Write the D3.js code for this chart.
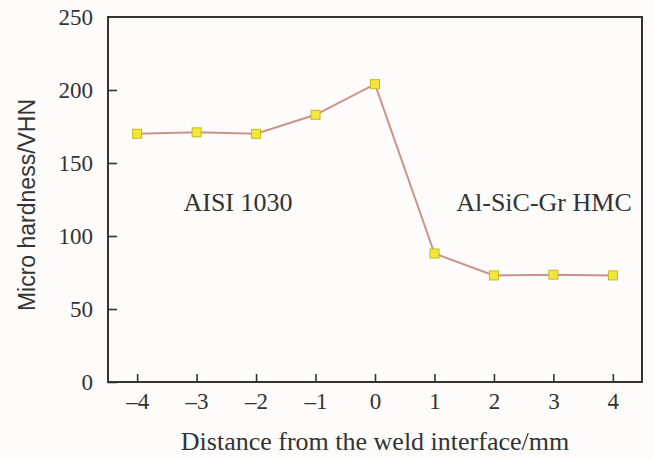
<!DOCTYPE html>
<meta charset="utf-8">
<script src="https://d3js.org/d3.v7.min.js"></script>
<style>
  body { margin: 0; background: #fdfcfa; }
  text { font-family: "Liberation Serif", "DejaVu Serif", serif; fill: #333; }
</style>
<div id="my_dataviz"></div>
<script>

// data
var distance = [-4, -3, -2, -1, 0, 1, 2, 3, 4];
var hardness = [170, 171, 170, 183, 204, 88, 73, 73.5, 73];
var yTicks = [0, 50, 100, 150, 200, 250];
var regionLabels = ["AISI 1030", "Al-SiC-Gr HMC"];

var width = 653, height = 459;
var margin = {top: 17, right: 11, bottom: 77, left: 108};
var w = width - margin.left - margin.right,
    h = height - margin.top - margin.bottom;

var svg = d3.select("#my_dataviz")
  .append("svg")
    .attr("width", width)
    .attr("height", height)
  .append("g")
    .attr("transform", "translate(" + margin.left + "," + margin.top + ")");

var x_axis = d3.scaleLinear().domain([-4.49, 4.49]).range([0, w]);
var y_axis = d3.scaleLinear().domain([0, 250]).range([h, 0]);

// frame
svg.append("rect")
  .attr("width", w).attr("height", h)
  .attr("fill", "none")
  .attr("stroke", "#333").attr("stroke-width", 2);

var xa = svg.append("g")
  .attr("transform", "translate(0," + h + ")")
  .call(d3.axisBottom(x_axis).tickValues(distance).tickSizeInner(-8).tickSizeOuter(0).tickPadding(11)
    .tickFormat(function(d) { return d < 0 ? "\u2013" + (-d) : d; }));

var ya = svg.append("g")
  .call(d3.axisLeft(y_axis).tickValues(yTicks).tickSizeInner(-9).tickSizeOuter(0).tickPadding(15));

[xa, ya].forEach(function(a) {
  a.select(".domain").remove();
  a.selectAll("line").attr("stroke", "#333").attr("stroke-width", 1.6);
  a.selectAll("text").style("font-size", "23px").attr("fill", "#333")
    .style("font-family", "Liberation Serif, serif");
});
ya.selectAll(".tick").filter(function(d) { return d === 250; }).select("line").remove();

// line
svg.append("path")
  .datum(distance)
  .attr("fill", "none")
  .attr("stroke", "#c8948e")
  .attr("stroke-width", 2)
  .attr("d", d3.line()
    .x(function(d) { return x_axis(d); })
    .y(function(d, i) { return y_axis(hardness[i]); }));

// markers
svg.selectAll(".pt")
  .data(distance)
  .enter()
  .append("rect")
    .attr("x", function(d) { return x_axis(d) - 4.5; })
    .attr("y", function(d, i) { return y_axis(hardness[i]) - 4.5; })
    .attr("width", 9).attr("height", 9)
    .attr("fill", "#f2e83a")
    .attr("stroke", "#c9b820").attr("stroke-width", 1);

// region labels
svg.append("text")
  .attr("x", 238 - margin.left).attr("y", 211 - margin.top)
  .attr("text-anchor", "middle")
  .style("font-size", "26px")
  .text(regionLabels[0]);

svg.append("text")
  .attr("x", 544 - margin.left).attr("y", 211 - margin.top)
  .attr("text-anchor", "middle")
  .style("font-size", "26px")
  .text(regionLabels[1]);

// axis titles
svg.append("text")
  .attr("x", w / 2).attr("y", 450 - margin.top)
  .attr("text-anchor", "middle")
  .style("font-size", "26px")
  .text("Distance from the weld interface/mm");

svg.append("text")
  .attr("transform", "translate(" + (35 - margin.left) + "," + (205 - margin.top) + ") rotate(-90)")
  .attr("text-anchor", "middle")
  .style("font-size", "23px")
  .style("font-family", "Liberation Sans, Arial, sans-serif")
  .text("Micro hardness/VHN");

</script>
